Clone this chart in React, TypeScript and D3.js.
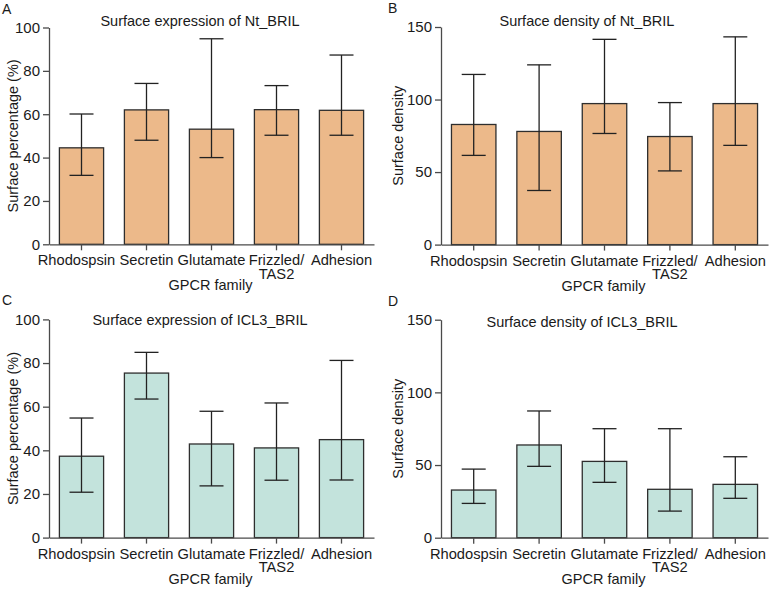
import React, { useEffect, useRef } from 'react';
import * as d3 from 'd3';

// GPCR families on the x axis
const categories = ['Rhodospsin', 'Secretin', 'Glutamate', 'Frizzled/TAS2', 'Adhesion'];

// A: surface expression of Nt_BRIL (%)
const ntExprMean = [44.5, 62.0, 53.1, 62.1, 61.8];
const ntExprLow = [31.8, 48.0, 40.0, 50.3, 50.3];
const ntExprHigh = [60.1, 74.2, 94.8, 73.2, 87.3];

// B: surface density of Nt_BRIL
const ntDensMean = [82.8, 78.0, 97.2, 74.5, 97.2];
const ntDensLow = [61.5, 37.3, 76.6, 50.8, 68.4];
const ntDensHigh = [117.3, 123.9, 141.5, 97.9, 143.2];

// C: surface expression of ICL3_BRIL (%)
const iclExprMean = [37.3, 75.4, 42.9, 41.1, 44.9];
const iclExprLow = [20.8, 63.5, 23.7, 26.3, 26.4];
const iclExprHigh = [54.8, 84.9, 57.9, 61.7, 81.2];

// D: surface density of ICL3_BRIL
const iclDensMean = [32.8, 63.8, 52.5, 33.3, 36.7];
const iclDensLow = [23.6, 49.1, 38.1, 18.3, 27.1];
const iclDensHigh = [47.2, 87.2, 75.0, 75.0, 55.7];

const pctTicks = [0, 20, 40, 60, 80, 100];
const densTicks = [0, 50, 100, 150];

const ORANGE = '#ecb98a';
const TEAL = '#c3e3dc';
const FONT = '"Liberation Sans", Arial, sans-serif';

const panels = [
  {
    letter: 'A', title: 'Surface expression of Nt_BRIL', ylabel: 'Surface percentage (%)',
    mean: ntExprMean, low: ntExprLow, high: ntExprHigh, ticks: pctTicks, fill: ORANGE,
    x0: 49, x1: 374, yTop: 27.5, yBot: 244.3, titleX: 200, titleY: 26, ylabelX: 18, letterX: 2,
  },
  {
    letter: 'B', title: 'Surface density of Nt_BRIL', ylabel: 'Surface density',
    mean: ntDensMean, low: ntDensLow, high: ntDensHigh, ticks: densTicks, fill: ORANGE,
    x0: 441, x1: 768, yTop: 27, yBot: 244.6, titleX: 587, titleY: 26, ylabelX: 403, letterX: 388,
  },
  {
    letter: 'C', title: 'Surface expression of ICL3_BRIL', ylabel: 'Surface percentage (%)',
    mean: iclExprMean, low: iclExprLow, high: iclExprHigh, ticks: pctTicks, fill: TEAL,
    x0: 49, x1: 374, yTop: 319.4, yBot: 537.6, titleX: 200, titleY: 325, ylabelX: 18, letterX: 2,
  },
  {
    letter: 'D', title: 'Surface density of ICL3_BRIL', ylabel: 'Surface density',
    mean: iclDensMean, low: iclDensLow, high: iclDensHigh, ticks: densTicks, fill: TEAL,
    x0: 441, x1: 768, yTop: 319.7, yBot: 537.7, titleX: 582, titleY: 327, ylabelX: 403, letterX: 388,
  },
];

const App = () => {
  const svgRef = useRef<SVGSVGElement>(null);

  useEffect(() => {
    const svg = d3.select(svgRef.current);
    svg.selectAll('*').remove();

    panels.forEach(p => {
      const g = svg.append('g').style('font-family', FONT);
      const yMax = p.ticks[p.ticks.length - 1];

      const x = d3
        .scaleBand()
        .domain(categories)
        .range([p.x0, p.x1])
        .paddingInner(0.32)
        .paddingOuter(0.16);
      const y = d3.scaleLinear().domain([0, yMax]).range([p.yBot, p.yTop]);

      // bars
      g.selectAll('rect.bar')
        .data(categories)
        .enter()
        .append('rect')
        .attr('class', 'bar')
        .attr('x', d => x(d))
        .attr('y', (d, i) => y(p.mean[i]))
        .attr('width', x.bandwidth())
        .attr('height', (d, i) => p.yBot - y(p.mean[i]))
        .attr('fill', p.fill)
        .attr('stroke', '#2e2e2e')
        .attr('stroke-width', 1.3);

      // error bars
      const cap = 12;
      categories.forEach((c, i) => {
        const cx = x(c) + x.bandwidth() / 2;
        const eb = g.append('g').attr('stroke', '#222').attr('stroke-width', 1.3);
        eb.append('line').attr('x1', cx).attr('x2', cx).attr('y1', y(p.low[i])).attr('y2', y(p.high[i]));
        eb.append('line').attr('x1', cx - cap).attr('x2', cx + cap).attr('y1', y(p.high[i])).attr('y2', y(p.high[i]));
        eb.append('line').attr('x1', cx - cap).attr('x2', cx + cap).attr('y1', y(p.low[i])).attr('y2', y(p.low[i]));
      });

      // y axis
      const yAxis = g
        .append('g')
        .attr('transform', `translate(${p.x0},0)`)
        .call(d3.axisLeft(y).tickValues(p.ticks).tickSizeInner(6).tickSizeOuter(0).tickPadding(3));
      yAxis.selectAll('path, line').attr('stroke', '#4a4a4a').attr('stroke-width', 1.3);
      yAxis.selectAll('text').attr('fill', '#1a1a1a').style('font-size', '15px').style('font-family', FONT);

      // x axis
      const xAxis = g
        .append('g')
        .attr('transform', `translate(0,${p.yBot})`)
        .call(d3.axisBottom(x).tickSizeInner(6).tickSizeOuter(0).tickFormat(() => ''));
      xAxis.selectAll('path, line').attr('stroke', '#4a4a4a').attr('stroke-width', 1.3);

      // category labels; the first one sits a little left of its tick, as in the figure
      categories.forEach((c, i) => {
        const lines = c.includes('/') ? [c.split('/')[0] + '/', c.split('/')[1]] : [c];
        const cx = x(c) + x.bandwidth() / 2 + (i === 0 ? -5 : 0);
        lines.forEach((l, k) => {
          g.append('text')
            .attr('text-anchor', 'middle')
            .attr('fill', '#1a1a1a')
            .style('font-size', '14.7px')
            .attr('x', cx)
            .attr('y', p.yBot + 21 + k * 13.5)
            .text(l);
        });
      });

      // axis titles
      g.append('text')
        .attr('text-anchor', 'middle')
        .attr('x', (p.x0 + p.x1) / 2 - 1)
        .attr('y', p.yBot + 46)
        .attr('fill', '#1a1a1a')
        .style('font-size', '14.5px')
        .text('GPCR family');

      g.append('text')
        .attr('text-anchor', 'middle')
        .attr('transform', `translate(${p.ylabelX},${(p.yTop + p.yBot) / 2}) rotate(-90)`)
        .attr('fill', '#1a1a1a')
        .style('font-size', '14.5px')
        .text(p.ylabel);

      // title and panel letter
      g.append('text')
        .attr('text-anchor', 'middle')
        .attr('x', p.titleX)
        .attr('y', p.titleY)
        .attr('fill', '#1a1a1a')
        .style('font-size', '14.5px')
        .text(p.title);

      g.append('text')
        .attr('x', p.letterX)
        .attr('y', p.yTop - 14)
        .attr('fill', '#1a1a1a')
        .style('font-size', '14px')
        .text(p.letter);
    });
  }, []);

  return (
    <svg
      ref={svgRef}
      width={770}
      height={590}
      style={{ position: 'absolute', left: 0, top: 0, background: '#fff' }}
    />
  );
};

export default App;
